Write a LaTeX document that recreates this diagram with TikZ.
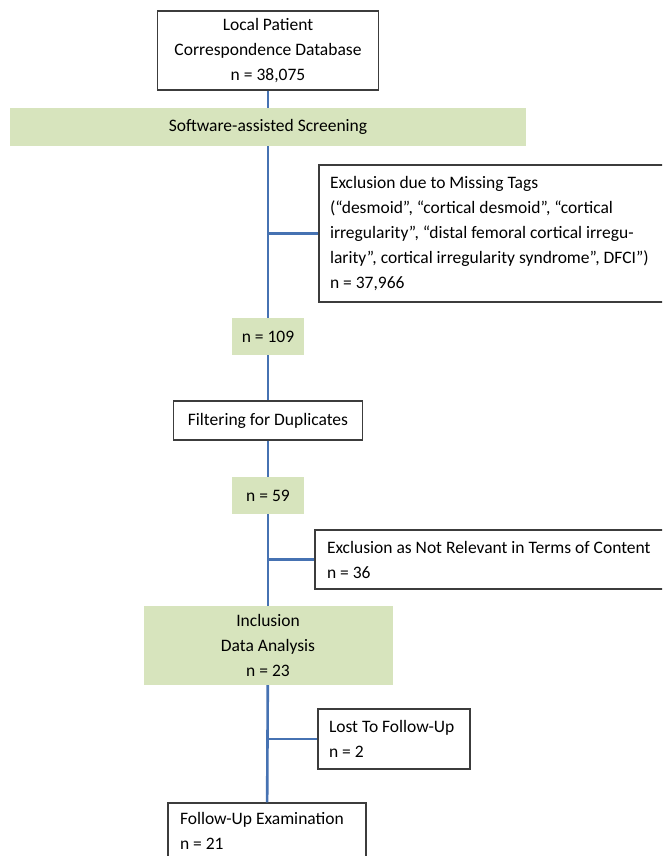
\documentclass[tikz,border=0pt]{standalone}
\usepackage{fontspec}
\setmainfont{Carlito}
\definecolor{bandgreen}{RGB}{215,228,189}
\definecolor{linkblue}{RGB}{70,114,178}
\definecolor{boxgray}{RGB}{60,60,60}
\tikzset{
  txt/.style={font=\fontsize{17.5}{25}\selectfont},
  box/.style={txt, draw=boxgray, line width=1.2pt, fill=white, inner sep=0pt},
  greenbox/.style={txt, fill=bandgreen, inner sep=0pt},
  link/.style={draw=linkblue, line width=2.6pt},
}
\begin{document}
\begin{tikzpicture}[x=1pt,y=-1pt]
      \useasboundingbox (0,0) rectangle (662,856);
      \clip (0,0) rectangle (662,856);
      \node[box, minimum width=221, minimum height=79, align=center] (db) at (268,50.5)
        {Local Patient\\Correspondence Database\\n = 38,075};
      \node[greenbox, minimum width=516, minimum height=38] (screen) at (268,127)
        {Software-assisted Screening};
      \node[box, minimum width=381, minimum height=137, text width=359, align=flush left] (excl1) at (509.5,233.5)
        {Exclusion due to Missing Tags\\
         (“desmoid”, “cortical desmoid”, “cortical\\
         irregularity”, “distal femoral cortical irregu-\\
         larity”, cortical irregularity syndrome”, DFCI”)\\
         n = 37,966};
      \node[greenbox, minimum width=72, minimum height=37] (n109) at (268,336.5) {n = 109};
      \node[box, minimum width=189, minimum height=39] (dup) at (268,420.5) {Filtering for Duplicates};
      \node[greenbox, minimum width=72, minimum height=37] (n59) at (268,495.5) {n = 59};
      \node[box, minimum width=385, minimum height=59, text width=361, align=flush left] (excl2) at (507.5,559.5)
        {Exclusion as Not Relevant in Terms of Content\\n = 36};
      \node[greenbox, minimum width=249, minimum height=79, align=center] (incl) at (268,645.5)
        {Inclusion\\Data Analysis\\n = 23};
      \node[box, minimum width=152, minimum height=60, text width=130, align=flush left] (lost) at (394,739)
        {Lost To Follow-Up\\n = 2};
      \node[box, minimum width=198, minimum height=56, text width=174, align=flush left] (follow) at (267,831)
        {Follow-Up Examination\\n = 21};
      \begin{scope}[link]
        \draw (db) -- (screen);
        \draw (screen) -- (n109);
        \draw (n109) -- (dup);
        \draw (dup) -- (n59);
        \draw (n59) -- (incl);
        \draw (incl) -- (follow);
        \draw (excl1.west) -- (excl1.west -| n109);
        \draw (excl2.west) -- (excl2.west -| n59);
        \draw (lost.west) -- (lost.west -| incl);
      \end{scope}
    \end{tikzpicture}
\end{document}
